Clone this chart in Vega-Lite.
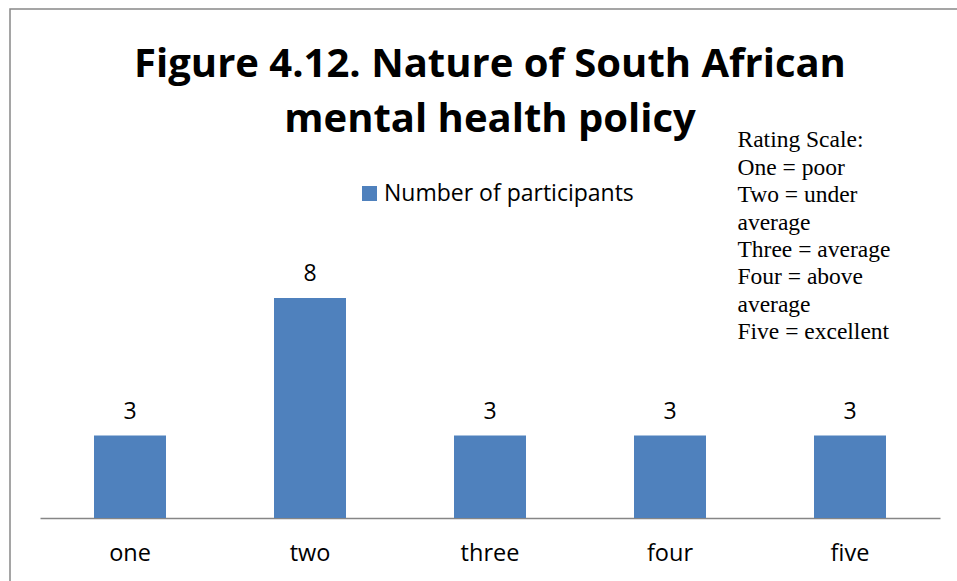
{
  "$schema": "https://vega.github.io/schema/vega-lite/v6.json",
  "width": 960,
  "height": 580,
  "autosize": "none",
  "padding": {"left": 10, "top": 9, "right": 0, "bottom": 0},
  "background": "white",
  "config": {"view": {"stroke": "#888888", "strokeWidth": 1.5}},
  "title": {
    "text": ["Figure 4.12. Nature of South African", "mental health policy"],
    "font": "Open Sans",
    "fontWeight": "bold",
    "fontSize": 40,
    "lineHeight": 55,
    "anchor": "middle",
    "frame": "group",
    "offset": -131,
    "color": "black"
  },
  "data": {
    "values": [
      {"rating": "one", "participants": 3},
      {"rating": "two", "participants": 8},
      {"rating": "three", "participants": 3},
      {"rating": "four", "participants": 3},
      {"rating": "five", "participants": 3}
    ]
  },
  "layer": [
    {
      "mark": {"type": "bar"},
      "encoding": {
        "x": {
          "field": "rating",
          "type": "nominal",
          "sort": ["one", "two", "three", "four", "five"],
          "scale": {"range": [30, 930], "paddingInner": 0.6, "paddingOuter": 0.3},
          "axis": {
            "title": null,
            "labelAngle": 0,
            "ticks": false,
            "grid": false,
            "offset": -71,
            "domainColor": "#868686",
            "domainWidth": 1.5,
            "labelFont": "Open Sans",
            "labelFontSize": 23.5,
            "labelColor": "black",
            "labelPadding": 23
          }
        },
        "y": {
          "field": "participants",
          "type": "quantitative",
          "scale": {"domain": [0, 10], "range": [509, 234]},
          "axis": null
        },
        "color": {
          "datum": "Number of participants",
          "scale": {"range": ["#4F81BD"]},
          "legend": {
            "orient": "none",
            "legendX": 348,
            "legendY": 173,
            "title": null,
            "symbolType": "square",
            "symbolSize": 225,
            "symbolStrokeWidth": 0,
            "labelFont": "Open Sans",
            "labelFontSize": 23,
            "labelLimit": 0,
            "labelColor": "black",
            "labelOffset": 3,
            "padding": 0
          }
        }
      }
    },
    {
      "mark": {"type": "text", "baseline": "alphabetic", "dy": -17, "font": "Open Sans", "fontSize": 23, "color": "black"},
      "encoding": {
        "x": {"field": "rating", "type": "nominal", "sort": ["one", "two", "three", "four", "five"]},
        "y": {"field": "participants", "type": "quantitative"},
        "text": {"field": "participants", "type": "quantitative"}
      }
    },
    {
      "data": {"values": [{"note": "Rating Scale:\nOne = poor\nTwo = under\naverage\nThree = average\nFour = above\naverage\nFive = excellent"}]},
      "mark": {"type": "text", "align": "left", "baseline": "top", "dx": 67.5, "lineBreak": "\n", "font": "Liberation Serif", "fontSize": 23.5, "lineHeight": 27.4, "color": "black"},
      "encoding": {
        "x": {"datum": "four"},
        "y": {"datum": 14.17},
        "text": {"field": "note"}
      }
    }
  ]
}
